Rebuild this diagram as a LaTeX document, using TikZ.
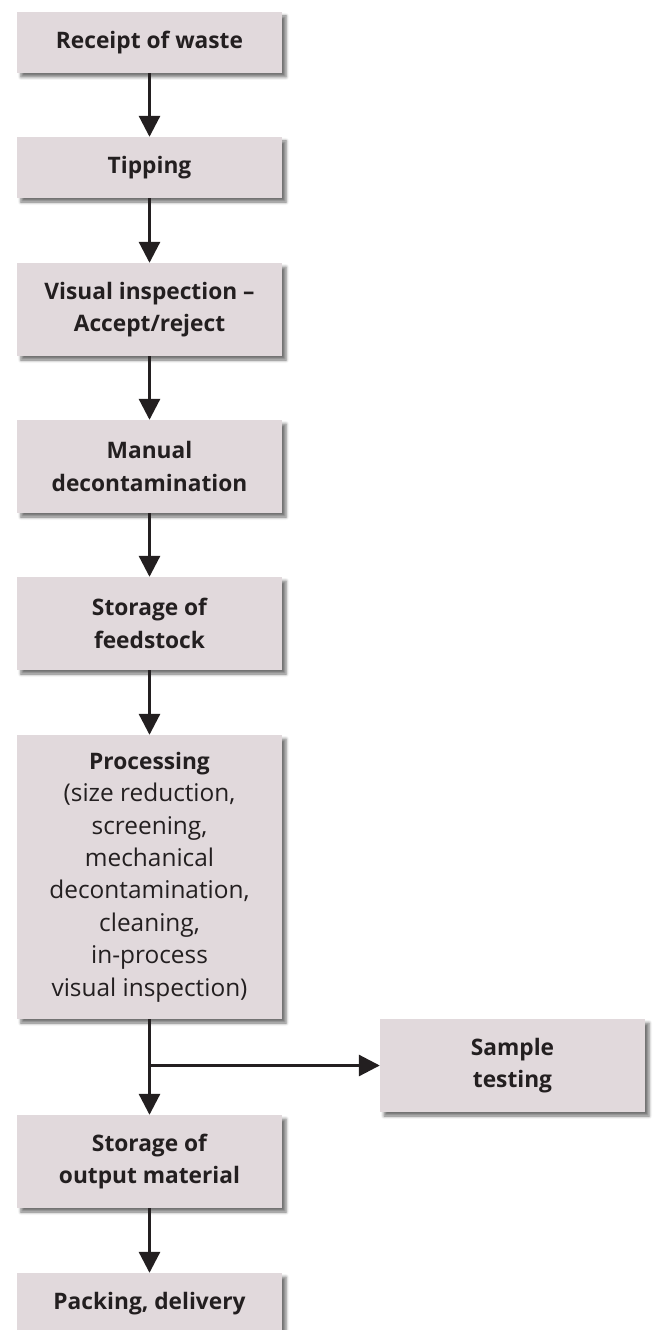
\documentclass[tikz,border=0pt]{standalone}
\usepackage{fontspec}
\setmainfont{Open Sans}
\usetikzlibrary{arrows.meta,shadows.blur}
\definecolor{boxfill}{HTML}{E1D9DC}
\definecolor{txt}{HTML}{231F20}
\newcommand{\bld}{\fontsize{22.8}{32.5}\selectfont\bfseries}
\begin{document}
\begin{tikzpicture}[x=1bp,y=-1bp,
  box/.style={fill=boxfill, draw=none, minimum width=265bp, align=center, inner sep=0pt,
    text=txt, font=\fontsize{24.5}{32.5}\selectfont,
    blur shadow={shadow xshift=4bp, shadow yshift=-4bp, shadow blur radius=3bp, shadow opacity=55}},
  bbox/.style={box, font=\bld},
  conn/.style={line width=3bp, draw=txt, -{Triangle[length=21bp,width=21bp]}}]
\useasboundingbox (0,0) rectangle (654,1330);
\node[bbox, minimum height=61bp] (b1) at (149.5,42.5) {Receipt of waste};
\node[bbox, minimum height=61bp] (b2) at (149.5,167.5) {Tipping};
\node[bbox, minimum height=93bp] (b3) at (149.5,309.5) {Visual inspection –\\Accept/reject};
\node[bbox, minimum height=93bp] (b4) at (149.5,466.5) {Manual\\decontamination};
\node[bbox, minimum height=93bp] (b5) at (149.5,623.5) {Storage of\\feedstock};
\node[box, minimum height=284bp] (b6) at (149.5,877) {{\bld Processing}\\(size reduction,\\screening,\\mechanical\\decontamination,\\cleaning,\\in-process\\visual inspection)};
\node[bbox, minimum height=93bp] (st) at (512.5,1065.5) {Sample\\testing};
\node[bbox, minimum height=93bp] (b7) at (149.5,1161.5) {Storage of\\output material};
\node[bbox, minimum height=61bp] (b8) at (149.5,1303.5) {Packing, delivery};
\draw[conn] (b1) -- (b2);
\draw[conn] (b2) -- (b3);
\draw[conn] (b3) -- (b4);
\draw[conn] (b4) -- (b5);
\draw[conn] (b5) -- (b6);
\draw[conn] (b6) -- (b7);
\draw[conn] (b7) -- (b8);
\coordinate (br) at (b6.south |- st.west);
\draw[conn] (br) -- (st.west);
\end{tikzpicture}
\end{document}
